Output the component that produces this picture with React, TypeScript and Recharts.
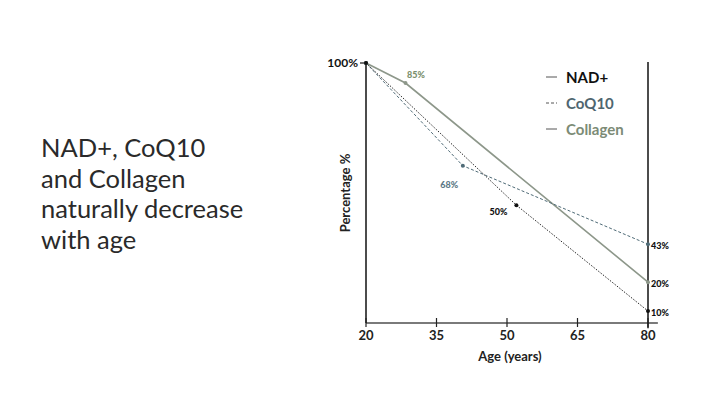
import { LineChart, Line, XAxis, YAxis, ReferenceLine, LabelList, Legend, Label } from "recharts";

const FONT = "Lato, 'Open Sans', sans-serif";

const ageTicks = [20, 35, 50, 65, 80];
const levelTicks = [100];

const seriesNames = ["NAD+", "CoQ10", "Collagen"];

const nadAges = [20, 52, 80];
const nadLevels = [100, 45.3, 4.6];
const nadLabels = ["", "50%", "10%"];

const coqAges = [20, 40.6, 80];
const coqLevels = [100, 60.5, 30.3];
const coqLabels = ["", "68%", "43%"];

const collagenAges = [20, 28.4, 80];
const collagenLevels = [100, 92.3, 15.7];
const collagenLabels = ["", "85%", "20%"];

const toRows = (ages: number[], levels: number[], labels: string[]) =>
  ages.map((x, i) => ({ x, y: levels[i], label: labels[i] }));

const nadData = toRows(nadAges, nadLevels, nadLabels);
const coqData = toRows(coqAges, coqLevels, coqLabels);
const collagenData = toRows(collagenAges, collagenLevels, collagenLabels);

const NAD_COLOR = "#111111";
const COQ_COLOR = "#4f6b77";
const COLLAGEN_COLOR = "#8d978a";

// label offsets per point index, relative to the dot: [dx, dy, anchor, colour]
const pointLabel = (offsets: [number, number, string, string][]) => (props: any) => {
  const { x, y, value, index } = props;
  if (!value) return null;
  const [dx, dy, anchor, color] = offsets[index];
  return (
    <text
      x={x + dx}
      y={y + dy}
      fill={color}
      fontSize={9}
      fontWeight={900}
      fontFamily={FONT}
      textAnchor={anchor}
      dominantBaseline="central"
    >
      {value}
    </text>
  );
};

const AgeTick = (props: any) => {
  const { x, y, payload } = props;
  return (
    <g>
      <line x1={x} x2={x} y1={y - 5} y2={y + 4} stroke="#222" strokeWidth={1.2} />
      <text x={x} y={y + 17} textAnchor="middle" fontSize={13} fontWeight={700} fill="#222" fontFamily={FONT}>
        {payload.value}
      </text>
    </g>
  );
};

const legendColors = ["#111111", "#4f6670", "#7c8b76"];
const legendGlyph = ["none", "3 2", "none"];

const renderLegend = () => (
  <div style={{ fontFamily: FONT }}>
    {seriesNames.map((name, i) => (
      <div key={name} style={{ display: "flex", alignItems: "center", height: 26 }}>
        <svg width={11} height={4} style={{ marginRight: 9 }}>
          <line x1={0} x2={11} y1={2} y2={2} stroke="#555" strokeWidth={1} strokeDasharray={legendGlyph[i]} />
        </svg>
        <span style={{ fontSize: 15, fontWeight: 700, color: legendColors[i] }}>{name}</span>
      </div>
    ))}
  </div>
);

export default function App() {
  return (
    <div style={{ position: "fixed", left: 0, top: 0, width: 720, height: 405, background: "#fff" }}>
      <div
        style={{
          position: "absolute",
          left: 41,
          top: 132,
          fontFamily: FONT,
          fontSize: 25.5,
          lineHeight: "30.5px",
          color: "#2a2a2a",
        }}
      >
        NAD+, CoQ10
        <br />
        and Collagen
        <br />
        naturally decrease
        <br />
        with age
      </div>
      <div style={{ position: "absolute", left: 0, top: 0 }}>
        <LineChart width={720} height={405} margin={{ top: 63, right: 72, bottom: 42, left: 326 }}>
          <XAxis
            dataKey="x"
            type="number"
            domain={[20, 80]}
            ticks={ageTicks}
            axisLine={false}
            tickLine={false}
            tickSize={0}
            tickMargin={0}
            height={40}
            tick={<AgeTick />}
            allowDuplicatedCategory={false}
          >
            <Label
              value="Age (years)"
              position="insideBottom"
              offset={2}
              dx={3}
              fontSize={13}
              fontWeight={700}
              fill="#222"
              fontFamily={FONT}
            />
          </XAxis>
          <YAxis
            type="number"
            domain={[0, 100]}
            ticks={levelTicks}
            width={40}
            axisLine={{ stroke: "#111", strokeWidth: 1.5 }}
            tickLine={{ stroke: "#111", strokeWidth: 1.2 }}
            tickSize={6}
            tickMargin={2}
            tickFormatter={(v) => `${v}%`}
            tick={{ fontSize: 12, fontWeight: 700, fill: "#111", fontFamily: FONT }}
          >
            <Label
              value="Percentage %"
              angle={-90}
              position="center"
              dx={-1}
              fontSize={13}
              fontWeight={700}
              fill="#222"
              fontFamily={FONT}
            />
          </YAxis>
          <ReferenceLine
            segment={[{ x: 20, y: 0 }, { x: 82.1, y: 0 }]}
            stroke="#7a7a7a"
            strokeWidth={2}
            ifOverflow="visible"
          />
          <ReferenceLine
            segment={[{ x: 80, y: -2 }, { x: 80, y: 100.4 }]}
            stroke="#111"
            strokeWidth={1.5}
            ifOverflow="visible"
          />
          <Legend
            layout="vertical"
            align="center"
            verticalAlign="middle"
            content={renderLegend}
            wrapperStyle={{ top: 64, left: 546, width: 120 }}
          />
          <Line
            data={collagenData}
            dataKey="y"
            name="Collagen"
            stroke={COLLAGEN_COLOR}
            strokeWidth={1.6}
            dot={{ r: 2, fill: COLLAGEN_COLOR, stroke: "none" }}
            isAnimationActive={false}
          >
            <LabelList
              dataKey="label"
              content={pointLabel([
                [0, 0, "middle", "#111"],
                [10.5, -8.5, "middle", "#7a8f6c"],
                [3, 1, "start", "#111"],
              ])}
            />
          </Line>
          <Line
            data={coqData}
            dataKey="y"
            name="CoQ10"
            stroke={COQ_COLOR}
            strokeWidth={1}
            strokeDasharray="3 2"
            dot={{ r: 2, fill: COQ_COLOR, stroke: "none" }}
            isAnimationActive={false}
          >
            <LabelList
              dataKey="label"
              content={pointLabel([
                [0, 0, "middle", "#111"],
                [-13.5, 18.5, "middle", "#5d7986"],
                [3, 1, "start", "#111"],
              ])}
            />
          </Line>
          <Line
            data={nadData}
            dataKey="y"
            name="NAD+"
            stroke={NAD_COLOR}
            strokeWidth={0.9}
            strokeDasharray="1.5 1.5"
            dot={{ r: 2, fill: NAD_COLOR, stroke: "none" }}
            isAnimationActive={false}
          >
            <LabelList
              dataKey="label"
              content={pointLabel([
                [0, 0, "middle", "#111"],
                [-18, 6, "middle", "#111"],
                [3, 1, "start", "#111"],
              ])}
            />
          </Line>
        </LineChart>
      </div>
    </div>
  );
}
